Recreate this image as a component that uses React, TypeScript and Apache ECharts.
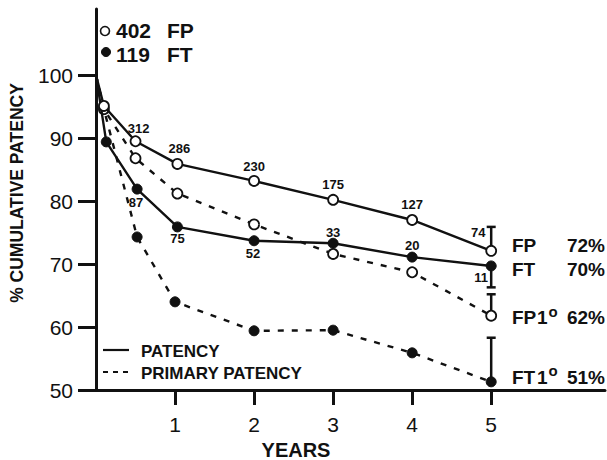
import React, { useEffect, useRef } from "react";
import * as echarts from "echarts";

// Years and % cumulative patency
const fpPatX = [0, 0.1, 0.5, 1.03, 2, 3, 4, 5];
const fpPatY = [100, 95.1, 89.5, 85.9, 83.2, 80.2, 77.0, 72.1];
const fpPatN = [null, null, 312, 286, 230, 175, 127, 74];

const ftPatX = [0, 0.13, 0.52, 1.03, 2, 3, 4, 5];
const ftPatY = [100, 89.4, 81.9, 75.9, 73.7, 73.3, 71.1, 69.7];
const ftPatN = [null, null, 87, 75, 52, 33, 20, 11];

const fpPriX = [0, 0.1, 0.5, 1.03, 2, 3, 4, 5];
const fpPriY = [100, 94.6, 86.8, 81.2, 76.3, 71.6, 68.7, 61.8];

const ftPriX = [0, 0.1, 0.52, 1, 2, 3, 4, 5];
const ftPriY = [100, 94.6, 74.3, 64.0, 59.4, 59.5, 55.9, 51.3];

// Error bars at year 5
const errX = [5, 5, 5, 5];
const errFrom = [72.1, 69.7, 61.8, 51.3];
const errTo = [75.9, 66.3, 65.2, 58.3];

const yTicks = [50, 60, 70, 80, 90, 100];
const xTicks = [1, 2, 3, 4, 5];

const FONT = "'Liberation Sans', Arial, Helvetica, sans-serif";
const INK = "#111";

// label offsets (style, not data)
const fpLabelOff = [null, null, [3, -13], [2, -15], [0, -14], [0, -15], [0, -15], [-13, -18]];
const ftLabelOff = [null, null, [-1, 13], [0, 12], [-1, 13], [0, -11], [0, -12], [-10, 12]];

function buildData(xs: number[], ys: number[], counts?: (number | null)[], offs?: any[], noSymbol: number[] = [0]) {
  return xs.map((x, i) => {
    const item: any = { value: [x, ys[i]] };
    if (noSymbol.includes(i)) item.symbol = "none";
    if (counts && counts[i] != null) {
      item.label = {
        show: true,
        formatter: String(counts[i]),
        position: "inside",
        offset: offs ? offs[i] : [0, -14],
        align: "center",
        verticalAlign: "middle",
        fontSize: 13,
        fontWeight: "bold",
        fontFamily: FONT,
        color: INK,
      };
    }
    return item;
  });
}

export default function App() {
  const ref = useRef<HTMLDivElement>(null);
  useEffect(() => {
    if (!ref.current) return;
    const chart = echarts.init(ref.current, undefined, { renderer: "svg" });
    const openStyle = { color: "#fff", borderColor: INK, borderWidth: 1.8 };
    const fillStyle = { color: INK, borderColor: INK, borderWidth: 1 };
    const txt = (text: string, x: number, y: number, size: number, extra: any = {}) => ({
      type: "text",
      x,
      y,
      style: {
        text,
        fontSize: size,
        fontWeight: "bold",
        fontFamily: FONT,
        fill: INK,
        align: "left",
        verticalAlign: "middle",
        ...extra,
      },
    });
    chart.setOption({
      animation: false,
      backgroundColor: "#fff",
      grid: { left: 96, right: 2, top: 9, bottom: 70 },
      xAxis: {
        type: "value",
        min: 0,
        max: 6.44,
        axisLine: { show: true, lineStyle: { color: INK, width: 3 } },
        axisTick: { show: true, customValues: xTicks, length: 15, lineStyle: { color: INK, width: 3 } },
        axisLabel: { customValues: xTicks, fontSize: 21, margin: 24, color: INK, fontFamily: FONT },
        splitLine: { show: false },
      },
      yAxis: {
        type: "value",
        min: 50,
        max: 110.5,
        axisLine: { show: true, lineStyle: { color: INK, width: 3 } },
        axisTick: { show: true, customValues: yTicks, length: 18, lineStyle: { color: INK, width: 3 } },
        axisLabel: { customValues: yTicks, fontSize: 21, margin: 23, color: INK, fontFamily: FONT },
        splitLine: { show: false },
      },
      series: [
        {
          name: "FP patency",
          type: "line",
          data: buildData(fpPatX, fpPatY, fpPatN, fpLabelOff),
          symbol: "circle",
          symbolSize: 10,
          lineStyle: { color: INK, width: 2.4 },
          itemStyle: openStyle,
          z: 3,
        },
        {
          name: "FT patency",
          type: "line",
          data: buildData(ftPatX, ftPatY, ftPatN, ftLabelOff),
          symbol: "circle",
          symbolSize: 10,
          lineStyle: { color: INK, width: 2.4 },
          itemStyle: fillStyle,
          z: 3,
        },
        {
          name: "FP primary patency",
          type: "line",
          data: buildData(fpPriX, fpPriY),
          symbol: "circle",
          symbolSize: 10,
          lineStyle: { color: INK, width: 2.4, type: [6, 8] },
          itemStyle: openStyle,
          z: 2,
        },
        {
          name: "FT primary patency",
          type: "line",
          data: buildData(ftPriX, ftPriY, undefined, undefined, [0, 1]),
          symbol: "circle",
          symbolSize: 10,
          lineStyle: { color: INK, width: 2.4, type: [6, 8] },
          itemStyle: fillStyle,
          z: 2,
        },
        {
          name: "error",
          type: "custom",
          data: errX.map((x, i) => [x, errFrom[i], errTo[i]]),
          renderItem: (params: any, api: any) => {
            const a = api.coord([api.value(0), api.value(1)]);
            const b = api.coord([api.value(0), api.value(2)]);
            return {
              type: "group",
              children: [
                { type: "line", shape: { x1: a[0], y1: a[1], x2: b[0], y2: b[1] }, style: { stroke: INK, lineWidth: 2.5 } },
                { type: "line", shape: { x1: b[0] - 4.5, y1: b[1], x2: b[0] + 4.5, y2: b[1] }, style: { stroke: INK, lineWidth: 2.5 } },
              ],
            };
          },
          z: 1,
        },
      ],
      graphic: [
        // top legend
        { type: "circle", shape: { cx: 105, cy: 31, r: 4.5 }, style: { fill: "#fff", stroke: INK, lineWidth: 1.6 } },
        txt("402", 116, 30, 21),
        txt("FP", 167, 30, 21),
        { type: "circle", shape: { cx: 106, cy: 52, r: 4.5 }, style: { fill: INK, stroke: INK, lineWidth: 1 } },
        txt("119", 116, 54, 21),
        txt("FT", 167, 54, 21),
        // bottom legend
        { type: "line", shape: { x1: 103, y1: 350, x2: 129, y2: 350 }, style: { stroke: INK, lineWidth: 2.2 } },
        { type: "line", shape: { x1: 103, y1: 372, x2: 131, y2: 372 }, style: { stroke: INK, lineWidth: 2.2, lineDash: [5, 5] } },
        txt("PATENCY", 141, 351, 17),
        txt("PRIMARY PATENCY", 141, 373, 17),
        // right-hand labels
        txt("FP", 512, 245, 19),
        txt("72%", 605, 245, 19, { align: "right" }),
        txt("FT", 512, 269, 19),
        txt("70%", 605, 269, 19, { align: "right" }),
        txt("FP", 512, 317, 19),
        txt("1", 537, 317, 19),
        txt("o", 553, 311, 15, { align: "center" }),
        txt("62%", 605, 317, 19, { align: "right" }),
        txt("FT", 512, 377, 19),
        txt("1", 537, 377, 19),
        txt("o", 553, 370, 15, { align: "center" }),
        txt("51%", 605, 377, 19, { align: "right" }),
        // axis titles
        txt("YEARS", 296, 450, 20, { align: "center" }),
        {
          type: "text",
          x: 17,
          y: 193,
          rotation: Math.PI / 2,
          style: {
            text: "% CUMULATIVE PATENCY",
            fontSize: 17.5,
            fontWeight: "bold",
            fontFamily: FONT,
            fill: INK,
            align: "center",
            verticalAlign: "middle",
          },
        },
      ],
    });
    return () => chart.dispose();
  }, []);
  return <div ref={ref} style={{ position: "fixed", left: 0, top: 0, width: 607, height: 460 }} />;
}
